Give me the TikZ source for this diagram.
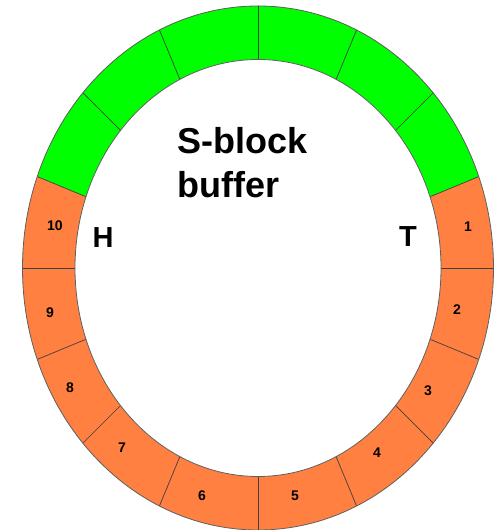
\documentclass[tikz,border=0pt]{standalone}
\usepackage{fontspec}
\setmainfont{Liberation Sans}
\definecolor{ringgreen}{RGB}{0,255,0}
\definecolor{ringorange}{RGB}{255,128,64}
\definecolor{edgegray}{RGB}{95,95,95}
\tikzset{
  outerring/.style={x radius=235.5pt, y radius=262pt},
  innerring/.style={x radius=183pt, y radius=208.5pt},
  edge/.style={draw=edgegray, line width=0.8pt},
  ray/.style={draw=black!75, line width=0.7pt},
  num/.style={font=\fontsize{14}{14}\selectfont\bfseries, inner sep=0pt},
  big/.style={font=\fontsize{36}{36}\selectfont\bfseries, inner sep=0pt, anchor=base west},
  htmark/.style={font=\fontsize{29}{29}\selectfont\bfseries, inner sep=0pt, anchor=base}
}
\begin{document}
\begin{tikzpicture}[x=1pt,y=1pt]
\useasboundingbox (0,0) rectangle (494,530);
\coordinate (c) at (258,262);
\begin{scope}
  \clip (c) ellipse [outerring];
  \fill[ringorange] (c) ellipse [outerring];
  \fill[ringgreen] (c) -- +(22.5:600) -- +(90:600) -- +(157.5:600) -- cycle;
  \foreach \k in {0,...,15} {
    \draw[ray] (c) -- +(\k*22.5:600);
  }
  \fill[white] (c) ellipse [innerring];
\end{scope}
\draw[edge] (c) ellipse [innerring];
\draw[edge] (c) ellipse [outerring];
% segment numbers
\node[num] (n1) at (468,303) {1};
\node[num] (n2) at (457,220) {2};
\node[num] (n3) at (428,139) {3};
\node[num] (n4) at (377,77) {4};
\node[num] (n5) at (295,34) {5};
\node[num] (n6) at (202,34) {6};
\node[num] (n7) at (122,82) {7};
\node[num] (n8) at (70,142) {8};
\node[num] (n9) at (50,217) {9};
\node[num] (n10) at (55,304) {10};
% labels
\node[big] (s1) at (177,376) {S-block};
\node[big] (s2) at (177,332) {buffer};
\node[htmark] (h) at (103,282) {H};
\node[htmark] (t) at (408,283) {T};
\end{tikzpicture}
\end{document}
